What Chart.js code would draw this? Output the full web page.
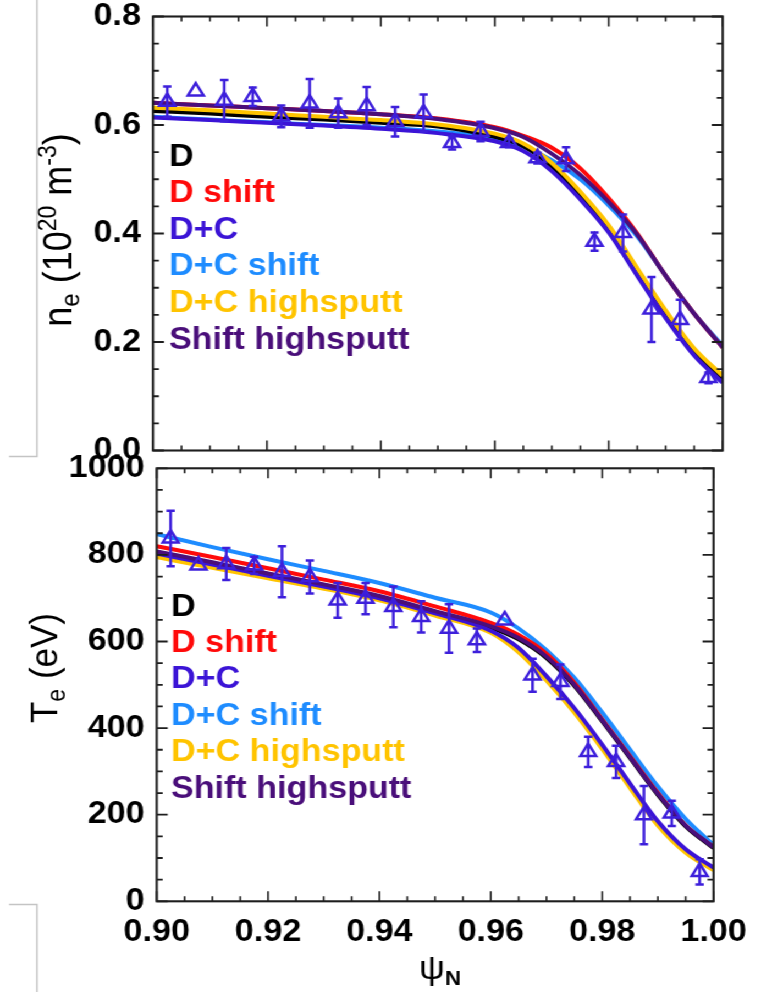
<!DOCTYPE html>
<html>
<head>
<meta charset="utf-8">
<title>Edge profiles: ne and Te vs psiN</title>
<script src="https://cdn.jsdelivr.net/npm/chart.js@4.4.1/dist/chart.umd.min.js"></script>
<style>
  html, body { margin: 0; padding: 0; background: #ffffff; }
  #page { position: relative; width: 761px; height: 998px; overflow: hidden; }
  /* charts are drawn 692px wide and widened to the page, giving the wide lettering */
  #stretch { position: absolute; left: 0; top: 0; width: 692px; height: 998px;
             transform: scaleX(1.09971); transform-origin: 0 0; }
  #ne-chart { position: absolute; left: 0; top: -40px; }
  #te-chart { position: absolute; left: 0; top: 0; }
</style>
</head>
<body>
<div id="page">
  <div id="stretch">
    <canvas id="ne-chart" width="692" height="1038"></canvas>
    <canvas id="te-chart" width="692" height="998"></canvas>
  </div>
</div>
<script>
// ── Data ────────────────────────────────────────────────────

// model profiles, sampled on a common psi_N grid
const psiGrid = [0.900, 0.910, 0.920, 0.930, 0.940, 0.950, 0.960, 0.965, 0.970, 0.975, 0.980, 0.985, 0.990, 0.995, 1.000];

// n_e (10^20 m^-3)
const neD         = [0.626, 0.621, 0.615, 0.610, 0.604, 0.597, 0.578, 0.561, 0.524, 0.470, 0.408, 0.328, 0.250, 0.182, 0.132];
const neDShift    = [0.641, 0.636, 0.631, 0.626, 0.620, 0.612, 0.596, 0.580, 0.558, 0.520, 0.465, 0.400, 0.322, 0.252, 0.190];
const neDC        = [0.614, 0.609, 0.604, 0.599, 0.593, 0.585, 0.570, 0.552, 0.515, 0.463, 0.402, 0.322, 0.244, 0.175, 0.125];
const neDCShift   = [0.615, 0.610, 0.605, 0.600, 0.595, 0.588, 0.575, 0.560, 0.535, 0.500, 0.452, 0.395, 0.322, 0.252, 0.193];
const neDCHigh    = [0.632, 0.627, 0.621, 0.615, 0.609, 0.601, 0.584, 0.566, 0.530, 0.477, 0.415, 0.336, 0.258, 0.188, 0.138];
const neShiftHigh = [0.641, 0.636, 0.631, 0.626, 0.620, 0.611, 0.594, 0.578, 0.547, 0.508, 0.458, 0.398, 0.322, 0.252, 0.190];

// T_e (eV)
const teD         = [806, 781, 756, 730, 703, 668, 632, 605, 562, 498, 416, 331, 246, 173, 123];
const teDShift    = [820, 795, 769, 743, 716, 681, 643, 615, 572, 505, 420, 335, 250, 175, 125];
const teDC        = [803, 778, 752, 727, 700, 665, 625, 585, 520, 446, 362, 272, 185, 120, 78];
const teDCShift   = [848, 818, 790, 763, 735, 701, 667, 630, 580, 516, 436, 350, 265, 190, 130];
const teDCHigh    = [795, 770, 746, 722, 695, 660, 620, 575, 510, 436, 352, 262, 175, 112, 72];
const teShiftHigh = [808, 783, 757, 732, 705, 670, 635, 608, 565, 500, 418, 333, 248, 175, 125];

// measured profiles with error bars
const psiMeas = [0.9025, 0.9075, 0.9125, 0.9175, 0.9225, 0.9275, 0.9325, 0.9375, 0.9425, 0.9475,
                 0.9525, 0.9575, 0.9625, 0.9675, 0.9725, 0.9775, 0.9825, 0.9875, 0.9925, 0.9975];
const neMeas = [0.643, 0.662, 0.645, 0.652, 0.616, 0.640, 0.622, 0.635, 0.606, 0.622,
                0.567, 0.588, 0.567, 0.539, 0.537, 0.385, 0.401, 0.260, 0.241, 0.134];
const neErr  = [0.028, 0, 0.038, 0.017, 0.020, 0.045, 0.027, 0.035, 0.027, 0.034,
                0.012, 0.018, 0.008, 0.010, 0.022, 0.017, 0.034, 0.060, 0.037, 0.010];
const teMeas = [838, 776, 779, 776, 761, 749, 695, 699, 680, 657,
                630, 603, 649, 522, 507, 345, 322, 199, 203, 68];
const teErr  = [64, 0, 37, 20, 59, 38, 40, 36, 47, 36,
                56, 27, 0, 38, 40, 35, 37, 67, 29, 29];

const seriesNames  = ['D', 'D shift', 'D+C', 'D+C shift', 'D+C highsputt', 'Shift highsputt'];
const seriesColors = ['#000000', '#ff0a0a', '#3b14d6', '#1e8cff', '#ffc400', '#4a0f7a'];
// stacking, topmost first
const drawOrder = [5, 2, 4, 0, 1, 3];

const psiTicks      = [0.90, 0.92, 0.94, 0.96, 0.98, 1.00];
const psiTickLabels = ['0.90', '0.92', '0.94', '0.96', '0.98', '1.00'];
const neTicks       = [0, 0.2, 0.4, 0.6, 0.8];
const neTickLabels  = ['0.0', '0.2', '0.4', '0.6', '0.8'];
const teTicks       = [0, 200, 400, 600, 800, 1000];
const teTickLabels  = ['0', '200', '400', '600', '800', '1000'];

// ── Styling ─────────────────────────────────────────────────

const FONT = '"Liberation Sans", Arial, Helvetica, sans-serif';
const DATA_COLOR = '#3d1fdb';
const AXIS_COLOR = '#1e1e1e';
const SX = 761 / 692;              // horizontal widening applied by CSS
const hx = v => v / SX;            // page x -> canvas x

// ── Helpers ─────────────────────────────────────────────────

function buildDatasets(curves, meas) {
    const sets = [{
        label: 'measured',
        data: psiMeas.map((x, i) => ({ x, y: meas[i] })),
        showLine: false,
        pointStyle: 'triangle',
        pointRadius: 8.3,
        pointHoverRadius: 8.3,
        pointBorderWidth: 2.5,
        pointBorderColor: DATA_COLOR,
        pointBackgroundColor: 'rgba(0,0,0,0)',
        order: 0,
    }];
    curves.forEach((vals, k) => {
        sets.push({
            label: seriesNames[k],
            data: psiGrid.map((x, i) => ({ x, y: vals[i] })),
            borderColor: seriesColors[k],
            borderWidth: 4,
            pointRadius: 0,
            cubicInterpolationMode: 'monotone',
            fill: false,
            order: 1 + drawOrder.indexOf(k),
        });
    });
    return sets;
}

// draws a run of text pieces (sub/superscripts) centred on cx
function richText(ctx, parts, cx, baseY) {
    let total = 0;
    parts.forEach(p => {
        ctx.font = `${p.bold ? 'bold ' : ''}${p.size}px ${FONT}`;
        p.w = ctx.measureText(p.text).width;
        total += p.w;
    });
    let x = cx - total / 2;
    parts.forEach(p => {
        ctx.font = `${p.bold ? 'bold ' : ''}${p.size}px ${FONT}`;
        ctx.fillText(p.text, x, baseY + (p.dy || 0));
        x += p.w;
    });
}

function makeDecor(cfg) {
    return {
        id: 'panelDecor',
        afterDatasetsDraw(chart) {
            const { ctx, chartArea: a, scales: { x, y } } = chart;
            ctx.save();
            ctx.beginPath();
            ctx.rect(a.left, a.top, a.right - a.left, a.bottom - a.top);
            ctx.clip();
            ctx.strokeStyle = DATA_COLOR;
            ctx.lineWidth = 2.5;
            psiMeas.forEach((p, i) => {
                const e = cfg.err[i];
                if (!e) return;
                const px = x.getPixelForValue(p);
                const y1 = y.getPixelForValue(cfg.meas[i] + e);
                const y2 = y.getPixelForValue(cfg.meas[i] - e);
                ctx.beginPath();
                ctx.moveTo(px, y1); ctx.lineTo(px, y2);
                ctx.moveTo(px - 3.8, y1); ctx.lineTo(px + 3.8, y1);
                ctx.moveTo(px - 3.8, y2); ctx.lineTo(px + 3.8, y2);
                ctx.stroke();
            });
            ctx.restore();
        },
        afterDraw(chart) {
            const { ctx, chartArea: a, scales: { x, y } } = chart;
            ctx.save();

            // inward tick marks on all four sides
            ctx.strokeStyle = AXIS_COLOR;
            ctx.lineWidth = 1.6;
            ctx.beginPath();
            for (let i = 0; i <= 20; i++) {
                const v = 0.9 + i * 0.005;
                const px = x.getPixelForValue(v);
                const len = i % 4 === 0 ? 10 : 5;
                ctx.moveTo(px, a.bottom); ctx.lineTo(px, a.bottom - len);
                ctx.moveTo(px, a.top); ctx.lineTo(px, a.top + len);
            }
            ctx.stroke();
            ctx.lineWidth = 1.8;
            ctx.beginPath();
            const nMajor = cfg.ticks.length - 1;
            const step = (cfg.ticks[nMajor] - cfg.ticks[0]) / (nMajor * 4);
            for (let i = 0; i <= nMajor * 4; i++) {
                const py = y.getPixelForValue(cfg.ticks[0] + i * step);
                const len = hx(i % 4 === 0 ? 11 : 6);
                ctx.moveTo(a.left, py); ctx.lineTo(a.left + len, py);
                ctx.moveTo(a.right, py); ctx.lineTo(a.right - len, py);
            }
            ctx.stroke();

            // plot frame
            ctx.lineWidth = 2.1;
            ctx.strokeRect(a.left, a.top, a.right - a.left, a.bottom - a.top);

            // series key
            ctx.textAlign = 'left';
            ctx.textBaseline = 'middle';
            ctx.font = `bold 31px ${FONT}`;
            seriesNames.forEach((name, k) => {
                ctx.fillStyle = seriesColors[k];
                ctx.fillText(name, cfg.keyX, cfg.keyY + k * cfg.keyGap);
            });

            // y axis title
            ctx.fillStyle = '#000';
            ctx.textBaseline = 'alphabetic';
            ctx.save();
            ctx.translate(cfg.titleX, cfg.titleY);
            ctx.rotate(-Math.PI / 2);
            richText(ctx, cfg.title, 0, 0);
            ctx.restore();

            if (cfg.extra) cfg.extra(ctx);
            ctx.restore();
        }
    };
}

function makePanel(canvasId, cfg) {
    const tickFont = { family: FONT, size: 31, weight: 'bold' };
    return new Chart(document.getElementById(canvasId), {
        type: 'line',
        data: { datasets: buildDatasets(cfg.curves, cfg.meas) },
        options: {
            responsive: false,
            animation: false,
            devicePixelRatio: 1,
            layout: { padding: cfg.padding },
            plugins: { legend: { display: false }, tooltip: { enabled: false } },
            scales: {
                x: {
                    type: 'linear',
                    min: 0.9,
                    max: 1.0,
                    display: cfg.showX,
                    grid: { display: false, drawTicks: false },
                    border: { display: false },
                    afterBuildTicks: s => { s.ticks = psiTicks.map(v => ({ value: v })); },
                    afterFit: s => { s.height = cfg.xHeight; },
                    ticks: {
                        padding: 13,
                        maxRotation: 0,
                        autoSkip: false,
                        color: '#000',
                        font: tickFont,
                        callback: (v, i) => psiTickLabels[i],
                    },
                },
                y: {
                    type: 'linear',
                    min: cfg.ticks[0],
                    max: cfg.ticks[cfg.ticks.length - 1],
                    grid: { display: false, drawTicks: false },
                    border: { display: false },
                    afterBuildTicks: s => { s.ticks = cfg.ticks.map(v => ({ value: v })); },
                    afterFit: s => { s.width = cfg.yWidth; },
                    ticks: {
                        padding: hx(12),
                        color: '#000',
                        font: tickFont,
                        callback: (v, i) => cfg.tickLabels[i],
                    },
                },
            },
        },
        plugins: [makeDecor(cfg)],
    });
}

// ── Panels ──────────────────────────────────────────────────

// n_e panel (canvas sits 40px above the page top)
makePanel('ne-chart', {
    curves: [neD, neDShift, neDC, neDCShift, neDCHigh, neShiftHigh],
    meas: neMeas,
    err: neErr,
    ticks: neTicks,
    tickLabels: neTickLabels,
    showX: false,
    xHeight: 0,
    yWidth: hx(153),
    padding: { top: 56.5, bottom: 547.5, left: 0, right: hx(38.3) },
    keyX: hx(169), keyY: 197, keyGap: 36.6,
    titleX: hx(71), titleY: 270,
    title: [
        { text: 'n', size: 36 },
        { text: 'e', size: 24, dy: 7 },
        { text: ' (10', size: 36 },
        { text: '20', size: 23, dy: -14 },
        { text: ' m', size: 36 },
        { text: '-3', size: 23, dy: -14 },
        { text: ')', size: 36 },
    ],
});

// T_e panel
makePanel('te-chart', {
    curves: [teD, teDShift, teDC, teDCShift, teDCHigh, teShiftHigh],
    meas: teMeas,
    err: teErr,
    ticks: teTicks,
    tickLabels: teTickLabels,
    showX: true,
    xHeight: 96.7,
    yWidth: hx(156.7),
    padding: { top: 468.3, bottom: 0, left: 0, right: hx(38.3) },
    keyX: hx(171), keyY: 607, keyGap: 36.4,
    titleX: hx(57), titleY: 668,
    title: [
        { text: 'T', size: 35 },
        { text: 'e', size: 23, dy: 7 },
        { text: ' (eV)', size: 35 },
    ],
    extra(ctx) {
        // x axis title
        ctx.fillStyle = '#000';
        richText(ctx, [
            { text: 'ψ', size: 33 },
            { text: 'N', size: 20, dy: 6, bold: true },
        ], hx(440), 979);

        // thin grey margin marks at the left edge
        ctx.strokeStyle = '#c4c4c4';
        ctx.lineWidth = 1.5;
        ctx.beginPath();
        ctx.moveTo(hx(37), 0); ctx.lineTo(hx(37), 456.5); ctx.lineTo(hx(9), 456.5);
        ctx.moveTo(hx(9), 904.5); ctx.lineTo(hx(37), 904.5); ctx.lineTo(hx(37), 992);
        ctx.stroke();
    },
});
</script>
</body>
</html>
